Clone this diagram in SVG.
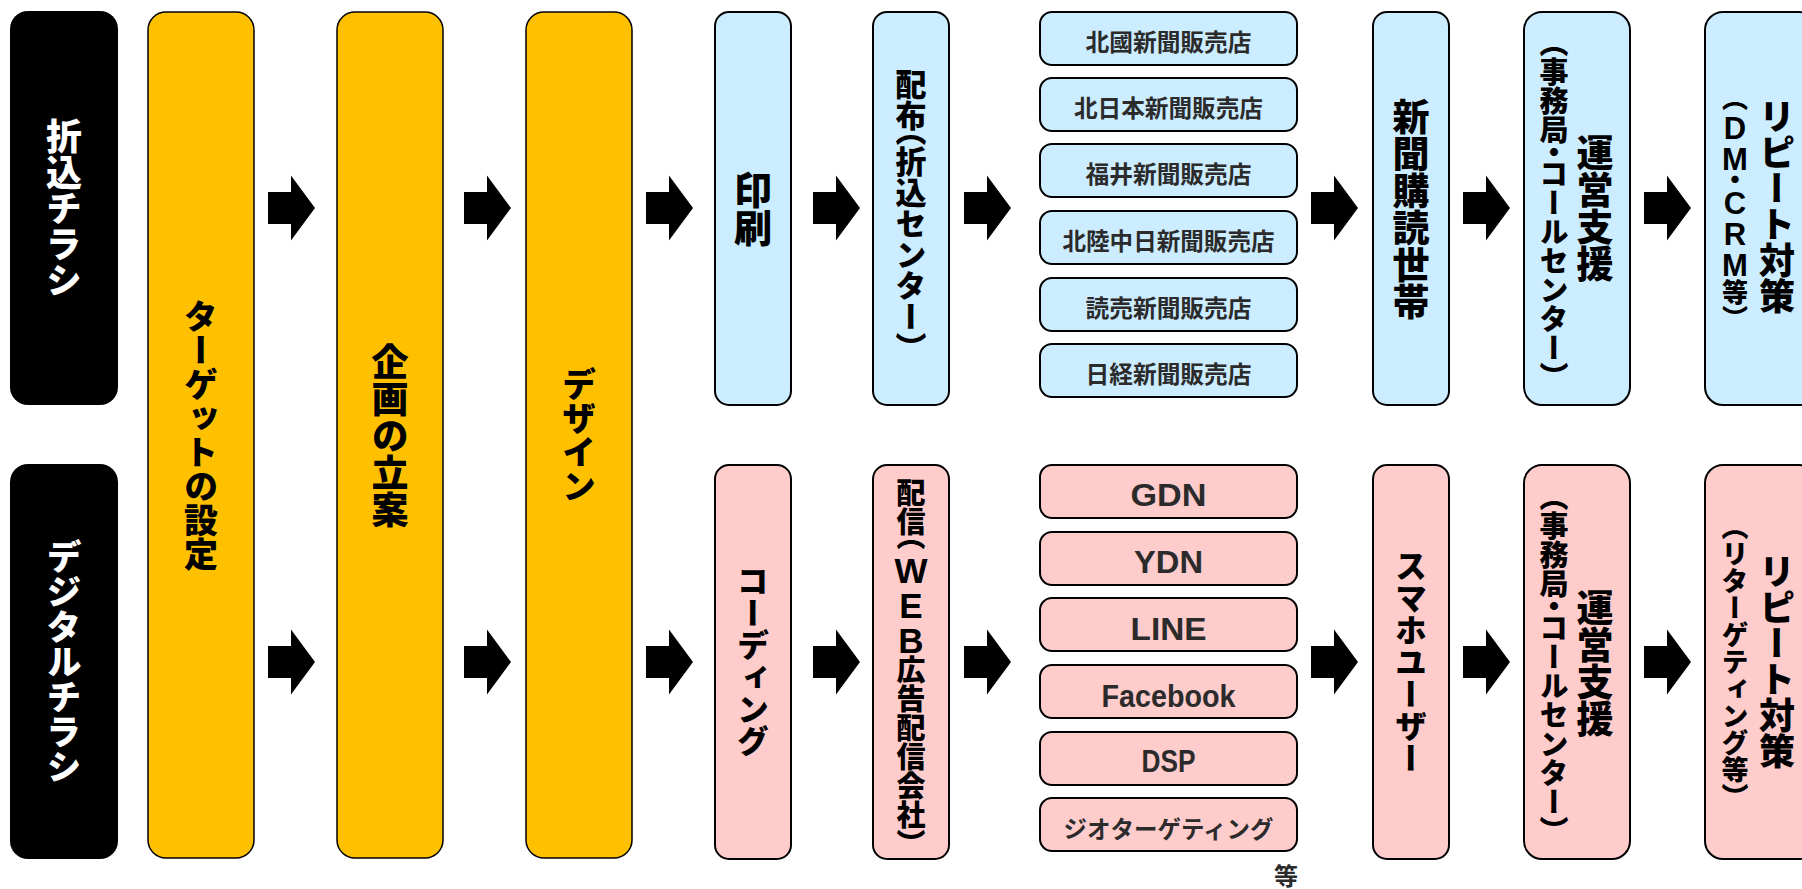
<svg xmlns="http://www.w3.org/2000/svg" width="1802" height="889" viewBox="0 0 1802 889">
<style>
.bk{fill:#000}
.ye{fill:#FFC000;stroke:#000;stroke-width:1.5}
.bl{fill:#CCECFF;stroke:#000;stroke-width:2}
.pk{fill:#FFCCCC;stroke:#000;stroke-width:2}
.v{font-family:"Noto Sans CJK JP","Noto Sans CJK SC",sans-serif;font-weight:900;writing-mode:vertical-rl;text-orientation:upright;text-anchor:middle;fill:#000}
.p{font-feature-settings:"vhal" 1}
.lat{font-family:"Liberation Sans",sans-serif;font-weight:700}
.w{fill:#fff}
.h{font-family:"Noto Sans CJK JP",sans-serif;font-weight:700;font-size:24px;text-anchor:middle;dominant-baseline:central;fill:#2b2b2b}
.l{font-family:"Liberation Sans","Noto Sans",sans-serif;font-weight:700;font-size:32px;text-anchor:middle;fill:#2b2b2b}
</style>
<defs>
<path id="ab" d="M0,-16 H23 V-32.5 L47,0 L23,32.5 V16 H0 Z" fill="#000"/>
</defs>

<g id="label-orikomi">
<rect class="bk" x="10" y="11" width="108" height="394" rx="18"/>
<text class="v w" font-size="36" transform="translate(64,208)">折込チラシ</text>
</g>
<g id="label-digital">
<rect class="bk" x="10" y="464" width="108" height="395" rx="18"/>
<text class="v w" font-size="35" transform="translate(64,662)">デジタルチラシ</text>
</g>

<g id="target">
<rect class="ye" x="148" y="12" width="106" height="846" rx="18"/>
<text class="v" font-size="34" transform="translate(201,435)">ターゲットの設定</text>
</g>
<g id="kikaku">
<rect class="ye" x="337" y="12" width="106" height="846" rx="18"/>
<text class="v" font-size="37" transform="translate(390,436)">企画の立案</text>
</g>
<g id="design">
<rect class="ye" x="526" y="12" width="106" height="846" rx="18"/>
<text class="v" font-size="34" transform="translate(579,435)">デザイン</text>
</g>

<g id="insatsu">
<rect class="bl" x="715" y="12" width="76" height="393" rx="14"/>
<text class="v" font-size="38" transform="translate(753,209)">印刷</text>
</g>
<g id="haifu">
<rect class="bl" x="873" y="12" width="76" height="393" rx="14"/>
<text class="v p" font-size="31" transform="translate(911,208)">配布（折込センター）</text>
</g>
<g id="hanbai">
<rect class="bl" x="1040" y="12" width="257" height="53" rx="12"/>
<text class="h" x="1168.5" y="40" textLength="166" lengthAdjust="spacingAndGlyphs">北國新聞販売店</text>
<rect class="bl" x="1040" y="78" width="257" height="53" rx="12"/>
<text class="h" x="1168.5" y="106" textLength="189" lengthAdjust="spacingAndGlyphs">北日本新聞販売店</text>
<rect class="bl" x="1040" y="144" width="257" height="53" rx="12"/>
<text class="h" x="1168.5" y="172" textLength="166" lengthAdjust="spacingAndGlyphs">福井新聞販売店</text>
<rect class="bl" x="1040" y="211" width="257" height="53" rx="12"/>
<text class="h" x="1168.5" y="239" textLength="212" lengthAdjust="spacingAndGlyphs">北陸中日新聞販売店</text>
<rect class="bl" x="1040" y="278" width="257" height="53" rx="12"/>
<text class="h" x="1168.5" y="306" textLength="166" lengthAdjust="spacingAndGlyphs">読売新聞販売店</text>
<rect class="bl" x="1040" y="344" width="257" height="53" rx="12"/>
<text class="h" x="1168.5" y="372" textLength="166" lengthAdjust="spacingAndGlyphs">日経新聞販売店</text>
</g>
<g id="koudoku">
<rect class="bl" x="1373" y="12" width="76" height="393" rx="14"/>
<text class="v" font-size="37" transform="translate(1411,209)">新聞購読世帯</text>
</g>
<g id="unei-top">
<rect class="bl" x="1524" y="12" width="106" height="393" rx="18"/>
<text class="v" font-size="37" transform="translate(1595,208)">運営支援</text>
<text class="v p" font-size="29" transform="translate(1554,210)">（事務局・コールセンター）</text>
</g>
<g id="repeat-top">
<rect class="bl" x="1705" y="12" width="112" height="393" rx="18"/>
<text class="v" font-size="36" transform="translate(1777,206)">リピート対策</text>
<text class="v p" font-size="26" transform="translate(1735,208)">（<tspan class="lat" font-size="31" letter-spacing="-4">DM</tspan>・<tspan class="lat" font-size="31" letter-spacing="-4">CRM</tspan>等）</text>
</g>

<g id="coding">
<rect class="pk" x="715" y="465" width="76" height="394" rx="14"/>
<text class="v" font-size="32" transform="translate(753,661)">コーディング</text>
</g>
<g id="haishin">
<rect class="pk" x="873" y="465" width="76" height="394" rx="14"/>
<text class="v p" font-size="29" transform="translate(911,661)">配信（<tspan class="lat" font-size="35" letter-spacing="-4">WEB</tspan>広告配信会社）</text>
</g>
<g id="media">
<rect class="pk" x="1040" y="465" width="257" height="53" rx="12"/>
<text class="l" x="1168.5" y="506" textLength="76" lengthAdjust="spacingAndGlyphs">GDN</text>
<rect class="pk" x="1040" y="532" width="257" height="53" rx="12"/>
<text class="l" x="1168.5" y="573" textLength="69" lengthAdjust="spacingAndGlyphs">YDN</text>
<rect class="pk" x="1040" y="598" width="257" height="53" rx="12"/>
<text class="l" x="1168.5" y="640" textLength="76" lengthAdjust="spacingAndGlyphs">LINE</text>
<rect class="pk" x="1040" y="665" width="257" height="53" rx="12"/>
<text class="l" x="1168.5" y="707" textLength="134" lengthAdjust="spacingAndGlyphs">Facebook</text>
<rect class="pk" x="1040" y="732" width="257" height="53" rx="12"/>
<text class="l" x="1168.5" y="772" textLength="54" lengthAdjust="spacingAndGlyphs">DSP</text>
<rect class="pk" x="1040" y="798" width="257" height="53" rx="12"/>
<text class="h" x="1168.5" y="827" textLength="210" lengthAdjust="spacingAndGlyphs">ジオターゲティング</text>
<text class="h" x="1286" y="874" font-size="24">等</text>
</g>
<g id="sumaho">
<rect class="pk" x="1373" y="465" width="76" height="394" rx="14"/>
<text class="v" font-size="32" transform="translate(1411,662)">スマホユーザー</text>
</g>
<g id="unei-bottom">
<rect class="pk" x="1524" y="465" width="106" height="394" rx="18"/>
<text class="v" font-size="37" transform="translate(1595,663)">運営支援</text>
<text class="v p" font-size="29" transform="translate(1554,664)">（事務局・コールセンター）</text>
</g>
<g id="repeat-bottom">
<rect class="pk" x="1705" y="465" width="112" height="394" rx="18"/>
<text class="v" font-size="36" transform="translate(1777,661)">リピート対策</text>
<text class="v p" font-size="27" transform="translate(1735,662)">（リターゲティング等）</text>
</g>

<g id="connectors">
<use href="#ab" x="268" y="208"/>
<use href="#ab" x="464" y="208"/>
<use href="#ab" x="646" y="208"/>
<use href="#ab" x="813" y="208"/>
<use href="#ab" x="964" y="208"/>
<use href="#ab" x="1311" y="208"/>
<use href="#ab" x="1463" y="208"/>
<use href="#ab" x="1644" y="208"/>
<use href="#ab" x="268" y="662"/>
<use href="#ab" x="464" y="662"/>
<use href="#ab" x="646" y="662"/>
<use href="#ab" x="813" y="662"/>
<use href="#ab" x="964" y="662"/>
<use href="#ab" x="1311" y="662"/>
<use href="#ab" x="1463" y="662"/>
<use href="#ab" x="1644" y="662"/>
</g>
</svg>
